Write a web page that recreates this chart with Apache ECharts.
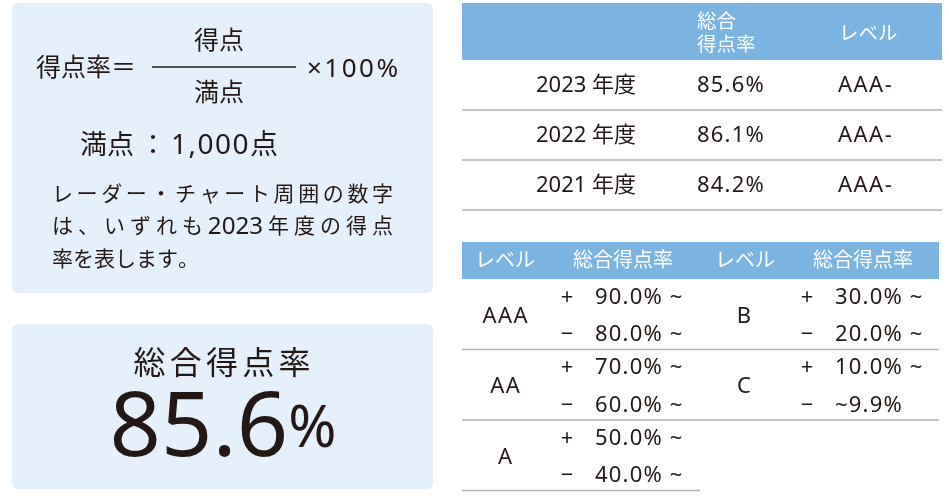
<!DOCTYPE html>
<html>
<head>
<meta charset="utf-8">
<script src="https://cdn.jsdelivr.net/npm/echarts@6/dist/echarts.min.js"></script>
<style>
html, body { margin: 0; padding: 0; background: #fff; }
#main { width: 949px; height: 496px; }
</style>
</head>
<body>
<div id="main"></div>
<script>
// formula panel
var formulaLeft = '得点率＝'
var numerator = '得点'
var denominator = '満点'
var multiplier = '×100%'
var fullScoreLabel = '満点'
var fullScoreValue = '1,000点'
var noteLines = ['レーダー・チャート周囲の数字', 'は、いずれも2023年度の得点', '率を表します。']

// total score panel
var totalLabel = '総合得点率'
var totalValue = '85.6'

// score by year
var yearHeaders = ['', '総合\n得点率', 'レベル']
var years = ['2023 年度', '2022 年度', '2021 年度']
var yearScores = ['85.6%', '86.1%', '84.2%']
var yearLevels = ['AAA-', 'AAA-', 'AAA-']

// level table
var levelHeaders = ['レベル', '総合得点率', 'レベル', '総合得点率']
var levels = ['AAA', 'AA', 'A', 'B', 'C']
var levelPlus = ['90.0% ~', '70.0% ~', '50.0% ~', '30.0% ~', '10.0% ~']
var levelMinus = ['80.0% ~', '60.0% ~', '40.0% ~', '20.0% ~', '~9.9%']

var ink = '#231815'
var paleBlue = '#e5f0fa'
var headBlue = '#7bb4e1'
var ruleGrey = '#b0b0b0'
var font = '"Noto Sans", "Noto Sans CJK JP", sans-serif'

var els = []
var ctx = document.createElement('canvas').getContext('2d')

function measure(s, size) {
    ctx.font = size + 'px ' + font
    return ctx.measureText(s).width
}

function txt(x, y, text, size, opt) {
    opt = opt || {}
    els.push({
        type: 'text',
        x: x,
        y: y,
        silent: true,
        style: {
            text: text,
            fill: opt.fill || ink,
            fontSize: size,
            fontFamily: font,
            lineHeight: opt.lineHeight,
            align: opt.align || 'left',
            verticalAlign: 'middle'
        }
    })
}

// letter-spaced text, one piece per character
function spaced(x, y, text, size, extra, opt) {
    opt = opt || {}
    var chars = text.split('')
    var widths = chars.map(function (c) { return measure(c, size) })
    var total = widths.reduce(function (a, b) { return a + b }, 0) + extra * (chars.length - 1)
    var cx = opt.align === 'center' ? x - total / 2 : x
    chars.forEach(function (c, i) {
        if (c !== ' ') txt(cx, y, c, size, { fill: opt.fill })
        cx += widths[i] + extra
    })
}

function box(x, y, w, h, color, r) {
    els.push({
        type: 'rect',
        silent: true,
        shape: { x: x, y: y, width: w, height: h, r: r || 0 },
        style: { fill: color }
    })
}

function rule(x1, x2, y, color, lw) {
    els.push({
        type: 'line',
        silent: true,
        shape: { x1: x1, y1: y, x2: x2, y2: y },
        style: { stroke: color, lineWidth: lw }
    })
}

// justify a line to a width, digit runs kept together and set a little larger
function spread(x0, y, line, size, width) {
    var parts = line.match(/[0-9,.]+|./g)
    var sizes = parts.map(function (p) { return /^[0-9]/.test(p) ? size * 1.15 : size })
    var widths = parts.map(function (p, i) { return measure(p, sizes[i]) })
    var natural = widths.reduce(function (a, b) { return a + b }, 0)
    var gap = width ? (width - natural) / (parts.length - 1) : 0
    var x = x0
    parts.forEach(function (p, i) {
        txt(x, y, p, sizes[i])
        x += widths[i] + gap
    })
}

// ---- left panels
box(12, 3, 421, 290, paleBlue, 6)
box(12, 324, 421, 165, paleBlue, 6)

txt(36, 69, formulaLeft, 25)
txt(219, 42, numerator, 25, { align: 'center' })
rule(152, 296, 67, ink, 1.5)
txt(219, 94, denominator, 25, { align: 'center' })
spaced(307, 70, multiplier, 26, 2.5)

txt(80, 146, fullScoreLabel, 27)
txt(153, 146, '：', 27, { align: 'center' })
spaced(171, 146, fullScoreValue, 28, 1.5)

noteLines.forEach(function (line, i) {
    spread(52, 195 + i * 32.5, line, 21, i < noteLines.length - 1 ? 341 : 0)
})

var labelW = 177
spread(222 - labelW / 2, 365, totalLabel, 32, labelW)

els.push({
    type: 'text',
    x: 223,
    y: 430,
    silent: true,
    style: {
        text: '{n|' + totalValue + '}{p|%}',
        fill: ink,
        align: 'center',
        verticalAlign: 'middle',
        rich: {
            n: { fontSize: 90, fontFamily: font, fill: ink },
            p: { fontSize: 58, fontFamily: font, fill: ink }
        }
    }
})

// ---- score by year table
var yearColX = [536, 697, 838]
box(462, 3, 480, 57, headBlue)
txt(yearColX[1], 34, yearHeaders[1], 19.5, { fill: '#fff', lineHeight: 23 })
txt(yearColX[2] + 1, 34, yearHeaders[2], 19.5, { fill: '#fff' })
years.forEach(function (y, i) {
    var cy = 86 + i * 50
    txt(yearColX[0], cy, y, 22)
    spaced(yearColX[1], cy, yearScores[i], 22, 1.2)
    spaced(yearColX[2], cy, yearLevels[i], 22, 1.5)
    rule(462, 942, 110 + i * 50, ruleGrey, 1.5)
})

// ---- level table
var headX = [505, 623, 745, 863]
box(462, 242, 477, 37, headBlue)
levelHeaders.forEach(function (h, i) {
    txt(headX[i], 261, h, 20, { fill: '#fff', align: 'center' })
})

var perCol = 3
var pitch = 70.5
var bodyTop = 279
var levelX = [505, 744]
var signX = [567, 807]
var rangeX = [595, 835]
levels.forEach(function (lv, i) {
    var col = Math.floor(i / perCol)
    var row = i % perCol
    var cy = bodyTop + pitch * row + 37.5
    spaced(levelX[col], cy, lv, 22, 1.5, { align: 'center' })
    txt(signX[col], cy - 19, '+', 22, { align: 'center' })
    txt(signX[col], cy + 18.5, '−', 22, { align: 'center' })
    spaced(rangeX[col], cy - 19, levelPlus[i], 22, 1.2)
    spaced(rangeX[col], cy + 18.5, levelMinus[i], 22, 1.2)
})
for (var r = 0; r < perCol; r++) {
    var right = levels.length > perCol + r
    rule(462, right ? 939 : 700, bodyTop + pitch * (r + 1), ruleGrey, 1.5)
}

var chart = echarts.init(document.getElementById('main'))
chart.setOption({
    backgroundColor: '#fff',
    graphic: { elements: els }
})
</script>
</body>
</html>
